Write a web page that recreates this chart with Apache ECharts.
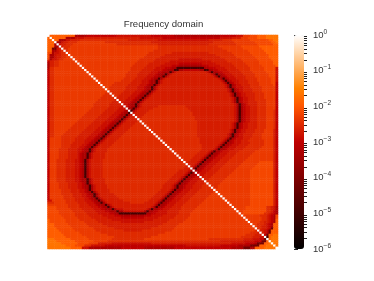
<!DOCTYPE html>
<html><head><meta charset="utf-8">
<style>html,body{margin:0;padding:0;background:#fff}#c{width:374px;height:281px;filter:blur(0.6px)}</style>
<script src="https://cdn.jsdelivr.net/npm/echarts@6/dist/echarts.min.js"></script>
</head><body><div id="c"></div>
<script>
const titleText = 'Frequency domain';
// log10 magnitude for each level letter
const levels = {a:-4.9,b:-4.2,c:-3.3,d:-3.0,e:-2.82,f:-2.66,g:-2.5,h:-2.32,i:-2.15,j:-1.9,k:-1.65,W:0};
const cmapStops = ['#000000','#200000','#400000','#600000','#800000','#9f0000','#bf0000','#df2b00','#ff5500','#ff8000','#ffaa55','#ffd5aa','#ffffff'];
const decades = [-6,-5,-4,-3,-2,-1,0];
const minorFactors = [2,3,4,5,6,7,8,9];
const N = 100;
const diagonal = 'WWWWWWWWWWWWWWWWWWWWWWWWWWWWWWWWWWWWWWWWWWWWWWWWWWWWWWWWWWWWWWWWWWWWWWWWWWWWWWWWWWWWWWWWWWWWWWWWWWWW';
// each row: level letter + column where that level starts
const rows = [
'j0 c12 d17 e30 d45 c55 d75 e82 h85 i88 j91 k95',
'j0 c8 e12 f16 e40 d50 e75 f80 h84 i87 j91 k95',
'j0 c5 e8 f10 g14 f35 e48 f70 g76 h80 i88 j96 k98',
'j0 c4 e6 f7 g9 h13 g25 f45 g72 h81 i90 j97 k99',
'j0 c3 e5 f6 g8 h11 g30 f48 g70 h82 i91 j98',
'j0 c3 e5 f6 g7 h10 g48 h74 i84 j92',
'j0 b2 e4 f5 g6 h9 g48 h76 i85 j93',
'j0 c2 e4 f5 g6 h9 g46 h78 i87 j94',
'i0 c2 e3 f5 g6 h8 g44 f54 g70 h80 i88 j95',
'i0 c1 e3 f4 g6 h8 g43 f51 g73 h81 i89 j96',
'i0 c1 e3 f4 g6 h8 g42 f49 g75 h82 i90 j96',
'h0 c1 e2 f4 g5 h7 g40 f47 e57 f67 g77 h84 i91 j97',
'd0 f1 g3 h5 g39 f46 e53 f71 g78 h85 i92 j98',
'c0 f1 g3 h5 g38 f44 e51 d57 e67 f73 g80 h86 i92 j98',
'c0 f1 g3 h5 g37 f43 e49 d54 c57 d67 e70 f75 g81 h87 i93 j99',
'c0 g1 h3 g36 f42 e47 d51 c54 a56 c68 d70 e73 f77 g82 h88 i94 e99',
'd0 g1 h3 g36 f41 e46 d50 c52 a55 c57 d59 c66 a68 c70 d72 e74 f78 g83 h88 i94 e99',
'd0 g1 h3 g35 f40 e45 d48 c50 a53 c54 e55 f56 e69 c70 a71 c72 d74 e76 f79 g84 h89 i95 e99',
'd0 g1 h3 g34 f39 e44 d47 c48 a51 c52 e53 f54 e71 c72 a73 c74 d76 e77 f80 g85 h90 i96 e99',
'd0 g1 h3 g34 f39 e43 d46 c48 a50 c51 e52 f53 e72 c73 a74 c75 d77 e78 f81 g86 h90 i96 e99',
'd0 g1 h3 g33 f38 e42 d45 c46 a48 c49 e50 f51 e74 c75 a76 c77 d78 e79 f82 g86 h91 i97 e99',
'd0 g1 h3 g32 f37 e41 d44 c45 a47 c48 e49 f50 e75 c76 a77 c78 d79 e80 f83 g87 h91 i97 e99',
'd0 g1 h3 g29 f36 e41 d44 c45 a47 c48 e49 f50 e76 c77 a78 c79 d80 e81 f83 g87 h92 i97 d99',
'd0 g1 h3 g28 f35 e40 d43 c44 a46 c47 e48 f49 e77 c78 a79 c80 d81 e82 f84 g88 h92 i98 d99',
'd0 g1 h3 g27 f34 e39 d42 c43 a45 c46 e47 f48 e77 c78 a79 c80 d81 e82 f85 g88 h93 d99',
'd0 g1 h3 g27 f34 e39 d42 c43 a45 c46 e47 f48 e78 c79 a80 c81 d82 e83 f85 g89 h93 d99',
'd0 g1 h3 g26 f33 e38 d41 c42 a44 c45 e46 f47 e78 c79 a80 c81 d82 e83 f85 g89 h93 d99',
'd0 g1 h3 g25 f32 e37 d40 c41 a43 c44 e45 f46 e79 c80 a81 c82 d83 e84 f86 g90 h94 d99',
'd0 g1 h3 g24 f31 e36 d39 c40 a42 c43 e44 f45 e79 c80 a81 c82 d83 e84 f86 g90 h94 d99',
'd0 g1 h3 g23 f30 e35 d38 c39 a41 c42 e43 f44 e80 c81 a82 c83 d84 e85 f87 g90 h94 d99',
'd0 g1 h3 g22 f29 e34 d37 c38 a40 c41 e42 f43 e80 c81 a82 c83 d84 e85 f87 g90 h95 d99',
'd0 g1 h3 g21 f28 e33 d36 c37 a39 c40 e41 f42 e80 c81 a82 c83 d84 e85 f87 g91 h95 d99',
'd0 g1 h3 g20 f27 e32 d35 c36 a38 c39 e40 f41 e81 c82 a83 c84 d85 e86 f87 g91 h95 d99',
'd0 g1 h3 g20 f27 e32 d35 c36 a38 c39 e40 f41 g48 f60 e81 c82 a83 c84 d85 e86 f88 g91 h95 d99',
'd0 g1 h3 g19 f26 e31 d34 c35 a37 c38 e39 f40 g46 f61 e81 c82 a83 c84 d85 e86 f88 g91 h95 d99',
'd0 g1 h3 g18 f25 e30 d33 c34 a36 c37 e38 f39 g44 f62 e81 c82 a83 c84 d85 e86 f88 g91 h95 g98 d99',
'd0 g1 h3 g17 f24 e29 d32 c33 a35 c36 e37 f38 g43 f63 e81 c82 a83 c84 d85 e86 f88 g91 h95 g98 d99',
'd0 g1 h3 g16 f23 e28 d31 c32 a34 c35 e36 f37 g42 f63 e81 c82 a83 c84 d85 e86 f88 g91 h95 g98 d99',
'd0 g1 h3 g15 f22 e27 d30 c31 a33 c34 e35 f36 g41 f64 e81 c82 a83 c84 d85 e86 f88 g91 h95 g98 d99',
'd0 g1 h3 g14 f21 e26 d29 c30 a32 c33 e34 f35 g40 f64 e81 c82 a83 c84 d85 e86 f88 g91 h95 g98 d99',
'd0 g1 h3 g13 f20 e25 d28 c29 a31 c32 e33 f34 g39 f65 e81 c82 a83 c84 d85 e86 f88 g91 h95 g98 d99',
'd0 g1 h3 g12 f19 e24 d27 c28 a30 c31 e32 f33 g38 f65 e80 c81 a82 c83 d84 e85 f87 g91 h95 g98 d99',
'd0 g1 h3 g11 f18 e23 d26 c27 a29 c30 e31 f32 g37 f65 e80 c81 a82 c83 d84 e85 f87 g91 h95 g98 d99',
'd0 g1 h3 g10 f17 e22 d25 c26 a28 c29 e30 f31 g36 f65 e80 c81 a82 c83 d84 e85 f87 g91 h95 g98 d99',
'd0 g1 h3 g9 f16 e21 d24 c25 a27 c28 e29 f30 g35 f65 e79 c80 a81 c82 d83 e84 f86 g90 h94 f98 d99',
'd0 g1 h3 g8 f15 e20 d23 c24 a26 c27 e28 f29 g34 f65 e79 c80 a81 c82 d83 e84 f86 g90 h94 f98 d99',
'd0 g1 h3 g7 f14 e19 d22 c23 a25 c26 e27 f28 g33 f65 e78 c79 a80 c81 d82 e83 f85 g89 h93 f98 d99',
'd0 g1 h3 g6 f13 e18 d21 c22 a24 c25 e26 f27 g32 f65 e78 c79 a80 c81 d82 e83 f85 g89 h93 f98 d99',
'd0 h1 g6 f12 e17 d20 c21 a23 c24 e25 f26 g31 f66 e77 c78 a79 c80 d81 e82 f85 g88 h93 f98 d99',
'd0 h1 g6 f12 e16 d19 c20 a22 c23 e24 f25 g30 f66 e76 c77 a78 c79 d80 e81 f84 g87 h94 f98 d99',
'd0 h1 g6 f11 e16 d18 c19 a21 c22 e23 f24 g29 f66 e75 c76 a77 c78 d80 e81 f84 g88 h94 f98 d99',
'd0 h1 g6 f10 e15 d17 c18 a20 c21 e22 f23 g28 f67 e74 c75 a76 c77 d79 e80 f83 g87 h94 f98 d99',
'd0 h1 g6 f10 e14 d16 c17 a19 c20 e21 f22 g27 f67 e73 c74 a75 c76 d78 e79 f82 g86 h93 f98 d99',
'd0 h1 g5 f9 e13 d15 c16 a18 c19 e20 f21 g26 f67 e72 c73 a74 c75 d77 e78 f81 g85 h92 f98 d99',
'd0 h1 g5 f9 e13 d15 c16 a18 c19 e20 f21 g26 f66 e70 c71 a72 c73 d75 e76 f79 g83 h90 f98 d99',
'd0 h1 g5 f9 e13 d14 c15 a17 c18 e19 f20 g25 f65 e69 c70 a71 c72 d74 e75 f78 g82 h89 f98 d99',
'd0 h1 g5 f9 e13 d14 c15 a17 c18 e19 f20 g25 f64 e68 c69 a70 c71 d73 e74 f77 g81 h88 f98 d99',
'd0 h1 g5 f9 e13 d14 c15 a17 c18 e19 f20 g25 f63 e67 c68 a69 c70 d72 e73 f76 g80 h87 f98 d99',
'd0 h1 g4 f8 e12 d14 c15 a16 c17 e18 f19 g24 f62 e66 c67 a68 c69 d71 e72 f75 g79 h86 f98 d99',
'd0 h1 g4 f8 e12 d14 c15 a16 c17 e18 f19 g24 f61 e65 c66 a67 c68 d70 e71 f74 g78 h85 i92 f98 d99',
'd0 h1 g4 f8 e12 d14 c15 a16 c17 e18 f19 g24 f60 e64 c65 a66 c67 d69 e70 f73 g77 h84 i91 f98 d99',
'd0 h1 g4 f8 e12 d14 c15 a16 c17 e18 f19 g24 f60 e63 c64 a65 c66 d68 e69 f72 g76 h83 i90 f98 d99',
'd0 h1 g4 f8 e12 d14 c15 a16 c17 e18 f19 g24 f59 e62 c63 a64 c65 d67 e68 f71 g75 h82 i89 f98 d99',
'd0 h1 g4 f8 e12 d14 c15 a16 c17 e18 f19 g24 f57 e61 c62 a63 c64 d66 e67 f70 g74 h81 i88 f98 d99',
'd0 h1 g4 f8 e12 d14 c15 a16 c17 e18 f19 g24 f56 e60 c61 a62 c63 d65 e66 f69 g73 h80 i88 f98 d99',
'd0 h1 g4 f8 e12 d14 c15 a16 c17 e18 f19 g24 f55 e59 c60 a61 c62 d64 e65 f68 g72 h79 i88 f98 d99',
'd0 h1 g4 f8 e12 d14 c15 a16 c17 e18 f19 g24 f54 e58 c59 a60 c61 d63 e64 f67 g71 h78 i88 f98 d99',
'd0 h1 g4 f8 e12 d14 c15 a17 c18 e19 f20 g25 f53 e57 c58 a59 c60 d62 e63 f66 g70 h77 i88 f98 d99',
'd0 h1 g4 f8 e12 d14 c15 a17 c18 e19 f20 g25 f52 e56 c57 a58 c59 d61 e62 f65 g69 h76 i88 f98 d99',
'd0 h1 g5 f9 e13 d15 c16 a17 c18 e19 f20 g25 f51 e55 c56 a57 c58 d60 e61 f64 g68 h75 i88 f98 d99',
'd0 h1 g5 f9 e13 d15 c16 a18 c19 e20 f21 g26 f50 e54 c55 a56 c57 d59 e60 f63 g67 h74 i88 f98 d99',
'd0 h1 g5 f9 e13 d15 c16 a18 c19 e20 f21 g26 f50 e54 c55 a56 c57 d59 e60 f63 g67 h74 i88 f98 d99',
'd0 h1 g6 f10 e14 d16 c17 a18 c19 e20 f21 g27 f49 e53 c54 a55 c56 d58 e59 f62 g66 h73 i88 f98 d99',
'd0 h1 g6 f10 e14 d16 c17 a19 c20 e21 f22 g27 f48 e52 c53 a54 c55 d57 e58 f61 g65 h72 i88 f98 d99',
'd0 h1 g6 f11 e15 d17 c18 a20 c21 e22 f23 g29 f47 e51 c52 a53 c54 d56 e57 f60 g64 h71 i88 f98 d99',
'd0 h1 g7 f11 e15 d17 c19 a20 c21 e22 f23 g30 f46 e50 c51 a52 c53 d55 e56 f59 g63 h70 i88 f98 d99',
'd0 h1 g7 f12 e16 d18 c19 a21 c22 e23 f24 g31 f45 e49 c50 a51 c52 d54 e55 f58 g62 h69 i88 f98 d99',
'e0 h2 g8 f12 e16 d19 c20 a22 c23 e24 f25 g33 f44 e48 c49 a50 c51 d53 e54 f57 g61 h68 i88 f98 d99',
'g0 h3 g8 f13 e17 d20 c21 a23 c24 e25 f26 g36 f42 e47 c48 a49 c50 d52 e53 f56 g60 h67 i88 f98 d99',
'h0 g9 f14 e18 d21 c22 a25 c26 e27 f28 e46 c47 a48 c49 d51 e52 f55 g59 h66 i88 f98 d99',
'i0 h4 g9 f14 e19 d22 c24 a26 c27 e28 f29 e45 c46 a47 c48 d50 e51 f54 g58 h65 i86 g95 f97 e98 c99',
'i0 h4 g10 f15 e20 d23 c25 a28 c29 e30 f33 e43 c44 a45 c46 d48 e50 f53 g58 h64 i86 g95 f97 e98 c99',
'i0 h5 g11 f16 e21 d25 c27 a30 c31 e33 c42 a43 c44 d46 e48 f52 g57 h63 i85 g95 f97 d98 c99',
'i0 h5 g12 f17 e22 d27 c29 a31 c43 d45 e47 f52 g57 h62 i85 g94 f96 e97 d98 c99',
'i0 h6 g12 f18 e24 d29 c32 d42 e45 f50 g56 h62 g92 f95 e96 d97 c98 i99',
'i0 h7 g13 f19 e26 d32 e42 f48 g55 h61 g93 f95 e96 d97 c98 i99',
'j0 i1 h8 g14 f21 e28 f46 g53 h60 g93 f95 e96 d97 c98 j99',
'j0 i1 h8 g16 f22 e32 f42 g52 h59 g92 f94 e96 d97 c98 j99',
'j0 i3 h9 g17 f24 g50 h57 g91 f94 e95 d96 c97 j98',
'j0 i3 h10 g18 f26 g48 h56 g91 f93 e95 d96 c97 j98',
'j0 i4 h11 g20 f29 g45 h55 g90 f93 e95 d96 b97 j98',
'j0 i5 h12 g21 f33 g41 h54 g90 f92 e94 d95 b96 j97',
'j0 i6 h14 g23 h51 g88 f91 e94 d95 b96 j97',
'j0 i7 h15 g26 h48 g86 f90 e93 d94 b95 j96 k98',
'j0 i8 h17 g29 h45 g84 f89 e92 d94 a95 j96 k97',
'k0 j3 i10 h18 g28 h42 g70 f85 e89 d92 b94 j96 k97',
'k0 j4 i12 h20 g26 f75 e85 d90 b93 j95 k96',
'k0 j6 i13 h18 f22 e28 f45 e80 d86 c90 b91 j94 k96',
'k0 j8 i12 g16 e19 d25 e60 d75 c83 b88 j92 k95',
'k0 j10 e15 c18 d32 c42 d55 c80 b85 c88 j90 k94'
];

const cells = [];
rows.forEach((row, r) => {
  const line = new Array(N);
  const tokens = row.split(' ');
  tokens.forEach((t, k) => {
    const start = +t.slice(1);
    const end = k + 1 < tokens.length ? +tokens[k + 1].slice(1) : N;
    for (let c = start; c < end; c++) line[c] = levels[t[0]];
  });
  line[r] = levels[diagonal[r]];
  line.forEach((v, c) => cells.push([c, r, v]));
});
const idx = Array.from({length: N}, (_, i) => i);
const minorTicks = [];
decades.slice(0, -1).forEach(d => minorFactors.forEach(m => minorTicks.push(d + Math.log10(m))));

const chart = echarts.init(document.getElementById('c'), null, {renderer: 'canvas'});
chart.setOption({
  animation: false,
  backgroundColor: '#fff',
  title: {text: titleText, left: 163.5, top: 19, padding: 0, textAlign: 'center',
    textStyle: {fontFamily: 'Liberation Sans', fontSize: 9.6, fontWeight: 'normal', color: '#333'}},
  grid: [
    {left: 47.5, top: 35, width: 230.5, height: 214},
    {left: 294, top: 35, width: 10, height: 214}
  ],
  xAxis: [
    {type: 'category', data: idx, gridIndex: 0, show: false},
    {type: 'value', gridIndex: 1, show: false, min: 0, max: 1}
  ],
  yAxis: [
    {type: 'category', data: idx, gridIndex: 0, show: false, inverse: true},
    {type: 'value', gridIndex: 1, min: -6, max: 0, position: 'right', splitLine: {show: false},
     axisLine: {show: false},
     axisTick: {show: true, length: 4, lineStyle: {color: '#222', width: 1}, customValues: decades},
     axisLabel: {show: true, margin: 9, customValues: decades, fontFamily: 'Liberation Sans',
       formatter: v => '{b|10}{s|' + (v === 0 ? '0' : '\u2212' + Math.abs(v)) + '}',
       rich: {b: {fontFamily: 'Liberation Sans', fontSize: 9.5, color: '#333'},
              s: {fontFamily: 'Liberation Sans', fontSize: 6.6, color: '#333', verticalAlign: 'bottom', padding: [0,0,6,0]}}}},
    {type: 'value', gridIndex: 1, min: -6, max: 0, position: 'right', splitLine: {show: false},
     axisLine: {show: false}, axisLabel: {show: false},
     axisTick: {show: true, length: 3, lineStyle: {color: '#222', width: 1}, customValues: minorTicks}}
  ],
  visualMap: {type: 'continuous', seriesIndex: 0, min: -6, max: 0, dimension: 2, calculable: false, showLabel: false,
    left: 294, top: 35, itemWidth: 10, itemHeight: 214, padding: 0, text: null, inRange: {color: cmapStops}},
  series: [{type: 'heatmap', data: cells, xAxisIndex: 0, yAxisIndex: 0, progressive: 0, itemStyle: {borderWidth: 0}, emphasis: {disabled: true}}]
});
</script></body></html>
